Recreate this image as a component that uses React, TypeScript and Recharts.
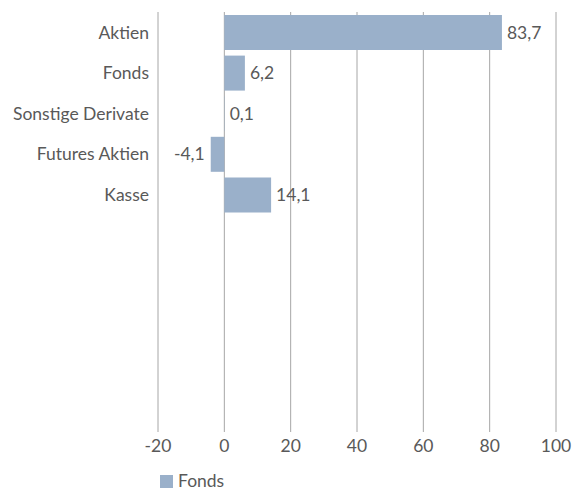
import React from "react";
import { BarChart, Bar, XAxis, YAxis, CartesianGrid, LabelList } from "recharts";

const categories = ["Aktien", "Fonds", "Sonstige Derivate", "Futures Aktien", "Kasse"];
const fondsValues = [83.7, 6.2, 0.1, -4.1, 14.1];
const xTicks = [-20, 0, 20, 40, 60, 80, 100];
const seriesName = "Fonds";

const data = categories.map((c, i) => ({ name: c, fonds: fondsValues[i] }));

const TEXT = "#595959";
const BAR = "#9AB0CA";
const FONT = "Lato, 'Open Sans', sans-serif";
const FS = 17.5;
const FW = 400;

const fmt = (v: number) => String(v).replace(".", ",");

const ValueLabel = (props: any) => {
  const { x, y, width, height, value } = props;
  const neg = value < 0;
  const left = Math.min(x, x + width);
  const right = Math.max(x, x + width);
  const tx = neg ? left - 6 : right + 5;
  return (
    <text
      x={tx}
      y={y + height / 2}
      dy="0.35em"
      textAnchor={neg ? "end" : "start"}
      fill={TEXT}
      fontSize={FS}
      fontWeight={FW}
      fontFamily={FONT}
    >
      {fmt(value)}
    </text>
  );
};

export default function App() {
  return (
    <div style={{ position: "absolute", left: 0, top: 0, width: 575, height: 490, background: "#fff" }}>
      <BarChart
        width={575}
        height={490}
        data={data}
        layout="vertical"
        margin={{ top: 12, right: 19, bottom: 28, left: 0 }}
      >
        <CartesianGrid horizontal={false} vertical={true} stroke="#A6A6A6" strokeWidth={1} />
        <XAxis
          type="number"
          domain={[-20, 100]}
          ticks={xTicks}
          axisLine={false}
          tickLine={false}
          tick={{ fill: TEXT, fontSize: FS, fontFamily: FONT, fontWeight: FW }}
          height={30}
          interval={0}
        />
        <YAxis
          type="category"
          dataKey="name"
          width={158}
          axisLine={false}
          tickLine={false}
          padding={{ top: 0, bottom: 217 }}
          tick={{ fill: TEXT, fontSize: FS, fontFamily: FONT, fontWeight: FW }}
          tickMargin={3}
          interval={0}
        />
        <Bar dataKey="fonds" name={seriesName} fill={BAR} barSize={35} isAnimationActive={false}>
          <LabelList dataKey="fonds" content={<ValueLabel />} />
        </Bar>
      </BarChart>
      <div
        style={{
          position: "absolute",
          left: 160,
          top: 471,
          display: "flex",
          alignItems: "center",
          fontFamily: FONT,
          fontSize: FS,
          fontWeight: FW,
          color: TEXT,
          lineHeight: "20px",
        }}
      >
        <span style={{ display: "inline-block", width: 13, height: 13, background: BAR, marginRight: 5 }} />
        <span>{seriesName}</span>
      </div>
    </div>
  );
}
